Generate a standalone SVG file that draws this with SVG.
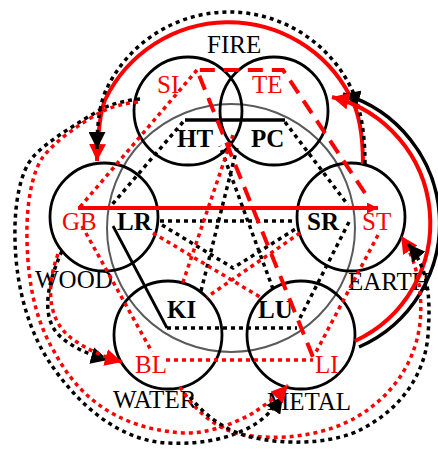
<svg xmlns="http://www.w3.org/2000/svg" width="438" height="452" viewBox="0 0 438 452">
<defs>
<style>
.c{fill:none;stroke:#000;stroke-width:2.8}
.g{fill:none;stroke:#5a5a5a;stroke-width:2}
text{font-family:"Liberation Serif","Times New Roman",serif;font-size:25px;fill:#000}
.y{fill:#ff0000}
.b{font-weight:bold}
.kd{fill:none;stroke:#000;stroke-width:3.5;stroke-dasharray:4 4}
.rd{fill:none;stroke:#ff0000;stroke-width:3.5;stroke-dasharray:4 4}
.rdash{fill:none;stroke:#ff0000;stroke-width:4;stroke-dasharray:15 9}
.ks{fill:none;stroke:#000;stroke-width:3.5}
.rs{fill:none;stroke:#ff0000;stroke-width:4}
</style>
<marker id="ak" viewBox="0 0 10 10" refX="10" refY="5" markerWidth="17" markerHeight="17" markerUnits="userSpaceOnUse" orient="auto"><path d="M0,0L10,5L0,10z" fill="#000"/></marker>
<marker id="ar" viewBox="0 0 10 10" refX="10" refY="5" markerWidth="17" markerHeight="17" markerUnits="userSpaceOnUse" orient="auto"><path d="M0,0L10,5L0,10z" fill="#ff0000"/></marker>
<marker id="ars" viewBox="0 0 10 10" refX="10" refY="5" markerWidth="11" markerHeight="11" markerUnits="userSpaceOnUse" orient="auto"><path d="M0,0L10,5L0,10z" fill="#ff0000"/></marker>
</defs>
<rect width="438" height="452" fill="#fff"/>
<g id="center"><circle class="g" cx="231" cy="228" r="124"/></g>
<g id="fire-si"><circle class="c" cx="188" cy="111" r="54"/><text class="y" x="157" y="93">SI</text><text class="b" x="177" y="147">HT</text></g>
<g id="fire-te"><circle class="c" cx="274" cy="111" r="54"/><text class="y" x="252" y="93">TE</text><text class="b" x="251" y="147">PC</text></g>
<g id="fire-label"><text x="207" y="53">FIRE</text></g>
<g id="wood"><circle class="c" cx="104" cy="217" r="54"/><text class="y" x="62" y="230">GB</text><text class="b" x="117" y="230">LR</text><text x="35" y="288">WOOD</text></g>
<g id="earth"><circle class="c" cx="351" cy="217" r="54"/><text class="b" x="307" y="230">SR</text><text class="y" x="362" y="230">ST</text><text x="348" y="290">EARTH</text></g>
<g id="water"><circle class="c" cx="168" cy="335" r="54"/><text class="b" x="167" y="318">KI</text><text class="y" x="135" y="373">BL</text><text x="113" y="408">WATER</text></g>
<g id="metal"><circle class="c" cx="301" cy="335" r="54"/><text class="b" x="258" y="318">LU</text><text class="y" x="315" y="373">LI</text><text x="267" y="410">METAL</text></g>
<g id="connectors">
<line class="ks" x1="185" y1="120" x2="285" y2="120"/>
<line class="rs" x1="78" y1="208" x2="378" y2="208" marker-end="url(#ars)"/>
<line x1="113" y1="226" x2="167" y2="328" stroke="#000" stroke-width="2.8"/>
<line class="kd" x1="167" y1="328" x2="297" y2="328"/>
<line class="rd" x1="166" y1="360" x2="313" y2="360"/>
<line class="kd" x1="160" y1="221" x2="297" y2="221"/>
<line class="kd" x1="183" y1="122" x2="110" y2="207"/>
<line class="kd" x1="285" y1="122" x2="348" y2="205"/>
<line class="kd" x1="349" y1="222" x2="300" y2="318"/>
<polyline class="kd" points="162,225 233,268 297,228"/>
<line class="kd" x1="201" y1="291" x2="237" y2="148"/>
<line class="kd" x1="273" y1="289" x2="220" y2="146"/>
<line class="rd" x1="197" y1="70" x2="80" y2="207"/>
<line class="rd" x1="82" y1="226" x2="152" y2="352"/>
<line class="rd" x1="153" y1="233" x2="260" y2="297"/>
<line class="rd" x1="300" y1="233" x2="207" y2="297"/>
<line class="rd" x1="233" y1="135" x2="182" y2="285"/>
<line class="rd" x1="378" y1="235" x2="316" y2="352"/>
<polyline class="rdash" points="365,193 283,70 197,70 313,357"/>
<path class="rs" stroke-width="3.5" d="M363 164 C363 130 358 110 350 96 A137 137 0 0 0 105 100 C100 112 98 130 97 161" marker-end="url(#ar)"/>
<path class="kd" d="M365 164 C365 130 360 108 353 92 A136 136 0 0 0 107 88 C101 100 97 118 97 149" marker-end="url(#ak)"/>
<path class="ks" stroke-width="4" d="M359 347 A135 135 0 0 0 343 94" marker-end="url(#ak)"/>
<path class="rs" d="M355 341 A130 130 0 0 0 332 97" marker-end="url(#ar)"/>
<path class="kd" d="M140 99 Q120 101 103 108 C80 122 48 140 33 157 C20 172 14 205 15 240 C16 290 30 333 50 363 C75 400 115 440 167 443 C205 445 235 437 257 423 C267 416 276 406 283 396" marker-end="url(#ak)"/>
<path class="rd" d="M138 102 Q118 104 103 111 C82 122 56 140 43 157 C32 172 26 205 27 240 C28 290 38 325 55 353 C75 390 110 428 183 433 C205 434 232 425 253 413 C265 405 278 396 288 385" marker-end="url(#ar)"/>
<path class="kd" d="M62 251 C44 290 42 322 62 338 C74 348 90 355 108 360" marker-end="url(#ak)"/>
<path class="rd" d="M58 254 C44 292 50 324 74 340 C88 350 104 357 122 362" marker-end="url(#ar)"/>
<path class="rd" d="M180 387 C195 410 215 430 245 435 C290 442 330 432 355 418 C390 398 415 365 420 323 C423 295 418 262 401 236" marker-end="url(#ar)"/>
<path class="kd" d="M190 397 C205 415 225 432 255 438 C300 447 340 440 360 430 C400 410 425 375 428 335 C431 295 428 268 408 244" marker-end="url(#ak)"/>
</g>
</svg>
